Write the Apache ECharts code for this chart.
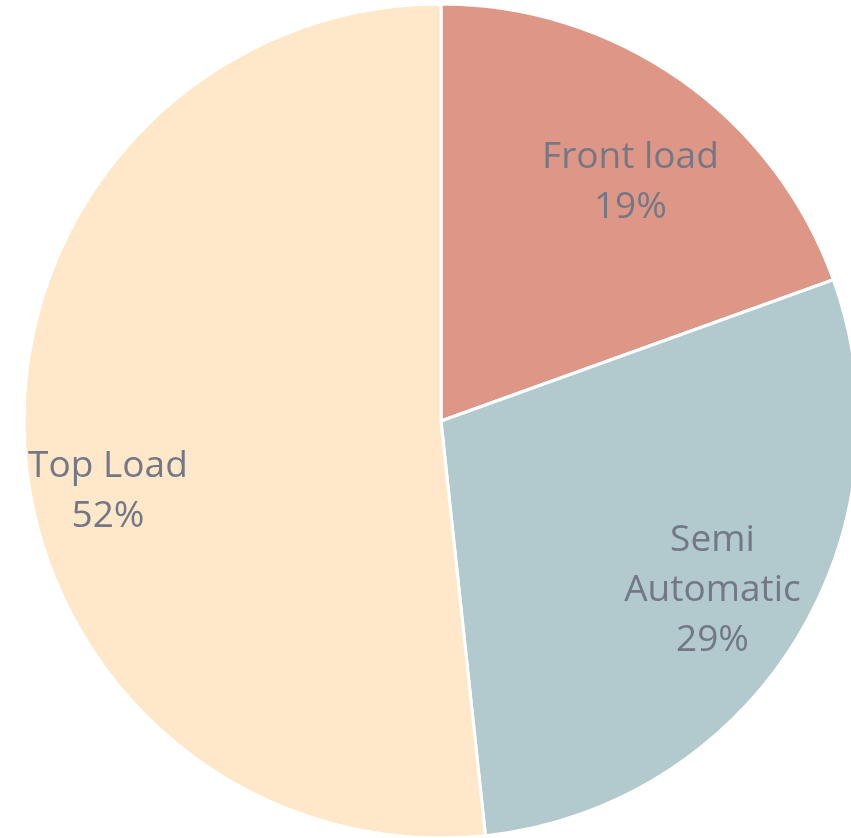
<!DOCTYPE html>
<html lang="en">
<head>
  <meta charset="UTF-8">
  <title>Washing machine types</title>
  <script src="https://cdn.jsdelivr.net/npm/echarts@6/dist/echarts.min.js"></script>
  <style>
    html, body { margin: 0; padding: 0; background: #fff; }
    #main { width: 851px; height: 838px; }
  </style>
</head>
<body>
<div id="main"></div>
<script>
  // data
  var names = ['Front load', 'Semi Automatic', 'Top Load'];
  var shares = [19.5, 28.8, 51.7];
  var colors = ['#DE9787', '#B2C9CE', '#FEE8C9'];

  // small label nudges, Excel puts labels a bit off the slice middle
  var nudge = [[8, 20], [4, 2], [-18, 54]];

  var pieData = names.map(function (n, i) {
    return { name: n, value: shares[i], itemStyle: { color: colors[i] } };
  });

  var myChart = echarts.init(document.getElementById('main'));
  myChart.setOption({
    animation: false,
    series: [
      {
        // the slices
        type: 'pie',
        center: [441, 421],
        radius: [0, 417],
        startAngle: 90,
        clockwise: true,
        silent: true,
        label: { show: false },
        labelLine: { show: false },
        itemStyle: { borderColor: '#ffffff', borderWidth: 3 },
        data: pieData
      },
      {
        // transparent ring only to carry the labels further out
        type: 'pie',
        center: [441, 421],
        radius: [208, 417],
        startAngle: 90,
        clockwise: true,
        silent: true,
        percentPrecision: 0,
        itemStyle: { color: 'rgba(0,0,0,0)', borderWidth: 0 },
        label: {
          show: true,
          position: 'inside',
          color: '#737886',
          fontFamily: 'Open Sans',
          fontSize: 37,
          lineHeight: 50,
          formatter: function (p) {
            return p.name.replace(' Automatic', '\nAutomatic') + '\n' + p.percent + '%';
          }
        },
        labelLayout: function (p) {
          var d = nudge[p.dataIndex];
          return { dx: d[0], dy: d[1] };
        },
        data: names.map(function (n, i) { return { name: n, value: shares[i] }; })
      }
    ]
  });
</script>
</body>
</html>
